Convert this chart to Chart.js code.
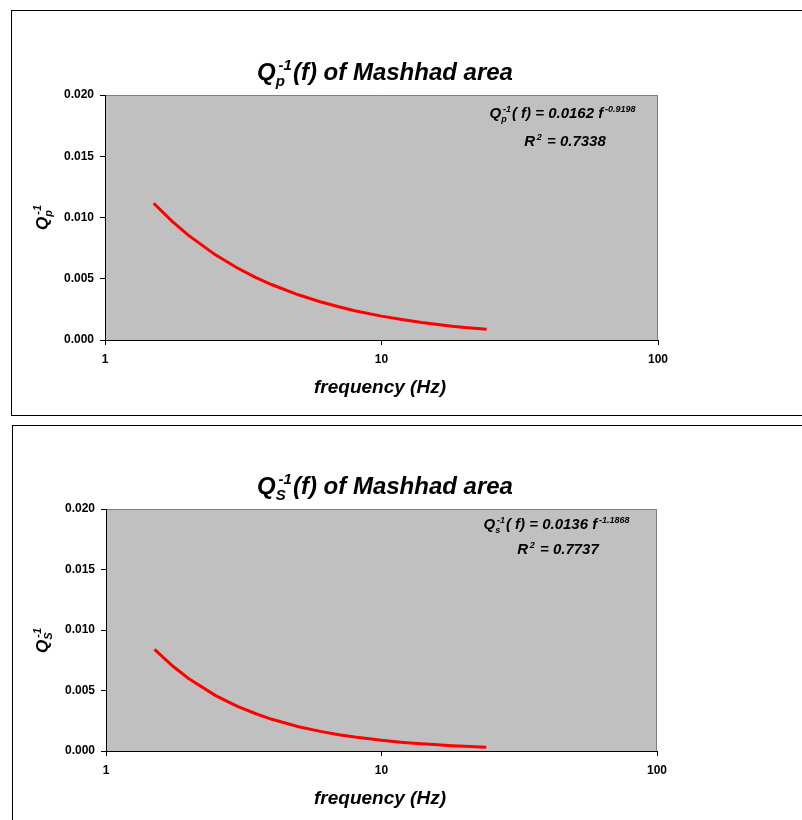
<!DOCTYPE html>
<html>
<head>
<meta charset="utf-8">
<script src="https://cdn.jsdelivr.net/npm/chart.js@4.4.1/dist/chart.umd.min.js"></script>
<style>
  html, body { margin: 0; padding: 0; background: #fff; overflow: hidden; }
  .frame { position: absolute; border: 1px solid #000; }
  canvas { position: absolute; left: 0; }
</style>
</head>
<body>
<div class="frame" style="left:11px;top:10px;width:820px;height:404px"></div>
<div class="frame" style="left:12px;top:425px;width:820px;height:420px"></div>
<canvas id="qp" width="802" height="415" style="top:0"></canvas>
<canvas id="qs" width="802" height="405" style="top:415px"></canvas>
<script>
// frequency samples (Hz) and read-off attenuation values
const freq  = [1.5, 1.75, 2, 2.5, 3, 3.5, 4, 5, 6, 7, 8, 10, 12, 14, 16, 18, 20, 24];
const qpInv = [0.01116, 0.00968, 0.00856, 0.00697, 0.00590, 0.00512, 0.00453, 0.00369, 0.00312,
               0.00271, 0.00239, 0.00195, 0.00165, 0.00143, 0.00127, 0.00113, 0.00103, 0.00087];
const qsInv = [0.00840, 0.00700, 0.00597, 0.00458, 0.00369, 0.00308, 0.00262, 0.00201, 0.00162,
               0.00135, 0.00115, 0.00088, 0.00071, 0.00059, 0.00051, 0.00044, 0.00039, 0.00031];
const xTicks = [1, 10, 100];
const yTicks = [0, 0.005, 0.010, 0.015, 0.020];

const FONT = 'Arial, "Liberation Sans", sans-serif';

// draw text made of pieces; a piece is a string or {sub, sup}
function richWidth(ctx, parts, size) {
  let w = 0;
  const small = Math.round(size * 0.62);
  parts.forEach(p => {
    if (typeof p === 'string') {
      ctx.font = `italic bold ${size}px ${FONT}`;
      w += ctx.measureText(p).width;
    } else {
      ctx.font = `italic bold ${small}px ${FONT}`;
      const a = p.sub ? ctx.measureText(p.sub).width : 0;
      const b = p.sup ? ctx.measureText(p.sup).width + size * 0.12 : 0;
      w += Math.max(a, b) + 1;
    }
  });
  return w;
}

function drawRich(ctx, parts, x, y, size, align) {
  const small = Math.round(size * 0.62);
  const w = richWidth(ctx, parts, size);
  let cx = align === 'right' ? x - w : align === 'left' ? x : x - w / 2;
  ctx.fillStyle = '#000';
  ctx.textAlign = 'left';
  ctx.textBaseline = 'alphabetic';
  parts.forEach(p => {
    if (typeof p === 'string') {
      ctx.font = `italic bold ${size}px ${FONT}`;
      ctx.fillText(p, cx, y);
      cx += ctx.measureText(p).width;
    } else {
      ctx.font = `italic bold ${small}px ${FONT}`;
      let a = 0, b = 0;
      if (p.sub) {
        ctx.fillText(p.sub, cx, y + size * 0.25);
        a = ctx.measureText(p.sub).width;
      }
      if (p.sup) {
        ctx.fillText(p.sup, cx + size * 0.12, y - size * 0.42);
        b = ctx.measureText(p.sup).width + size * 0.12;
      }
      cx += Math.max(a, b) + 1;
    }
  });
}

const richText = {
  id: 'richText',
  beforeDraw(chart) {
    const { ctx, chartArea: a } = chart;
    ctx.save();
    ctx.fillStyle = '#C0C0C0';
    ctx.fillRect(a.left, a.top, a.right - a.left, a.bottom - a.top);
    ctx.strokeStyle = '#808080';
    ctx.lineWidth = 1;
    ctx.beginPath();
    ctx.moveTo(a.left, a.top + 0.5);
    ctx.lineTo(a.right - 0.5, a.top + 0.5);
    ctx.lineTo(a.right - 0.5, a.bottom);
    ctx.stroke();
    ctx.restore();
  },
  afterDraw(chart, args, opts) {
    const ctx = chart.ctx;
    ctx.save();
    opts.items.forEach(it => {
      if (it.rotate) {
        ctx.save();
        ctx.translate(it.x, it.y);
        ctx.rotate(-Math.PI / 2);
        drawRich(ctx, it.parts, 0, 0, it.size, 'center');
        ctx.restore();
      } else {
        drawRich(ctx, it.parts, it.x, it.y, it.size, it.align || 'center');
      }
    });
    ctx.restore();
  }
};

function makeChart(id, values, box, items) {
  return new Chart(document.getElementById(id), {
    type: 'scatter',
    data: {
      datasets: [{
        data: freq.map((f, i) => ({ x: f, y: values[i] })),
        showLine: true,
        borderColor: '#FF0000',
        borderWidth: 3,
        pointRadius: 0,
        tension: 0
      }]
    },
    options: {
      responsive: false,
      animation: false,
      layout: { padding: { left: 0, right: box.right, top: box.top, bottom: 0 } },
      plugins: {
        legend: { display: false },
        tooltip: { enabled: false },
        richText: { items }
      },
      scales: {
        x: {
          type: 'logarithmic',
          min: 1,
          max: 100,
          afterBuildTicks: s => { s.ticks = xTicks.map(v => ({ value: v })); },
          afterFit: s => { s.height = box.xh; },
          grid: { drawOnChartArea: false, tickLength: 5, color: '#000' },
          border: { color: '#000', width: 1 },
          ticks: {
            color: '#000', padding: 7, maxRotation: 0, autoSkip: false,
            font: { family: FONT, size: 12, weight: 'bold' },
            callback: v => String(v)
          }
        },
        y: {
          min: 0,
          max: 0.02,
          afterBuildTicks: s => { s.ticks = yTicks.map(v => ({ value: v })); },
          afterFit: s => { s.width = box.left; },
          grid: { drawOnChartArea: false, tickLength: 5, color: '#000' },
          border: { color: '#000', width: 1 },
          ticks: {
            color: '#000', padding: 6,
            font: { family: FONT, size: 12, weight: 'bold' },
            callback: v => v.toFixed(3)
          }
        }
      }
    },
    plugins: [richText]
  });
}

makeChart('qp', qpInv, { left: 105, right: 144, top: 95, xh: 75 }, [
  { parts: ['Q', { sub: 'p', sup: '-1' }, '(f) of Mashhad area'], x: 385, y: 80, size: 24 },
  { parts: ['Q', { sub: 'p', sup: '-1' }, '( f) = 0.0162 f', { sup: '-0.9198' }], x: 563, y: 118, size: 15 },
  { parts: ['R', { sup: '2' }, ' = 0.7338'], x: 565, y: 146, size: 15 },
  { parts: ['frequency (Hz)'], x: 380, y: 393, size: 19 },
  { parts: ['Q', { sub: 'p', sup: '-1' }], x: 48, y: 217, size: 17, rotate: true }
]);

makeChart('qs', qsInv, { left: 106, right: 145, top: 94, xh: 69 }, [
  { parts: ['Q', { sub: 'S', sup: '-1' }, '(f) of Mashhad area'], x: 385, y: 79, size: 24 },
  { parts: ['Q', { sub: 's', sup: '-1' }, '( f) = 0.0136 f', { sup: '-1.1868' }], x: 557, y: 114, size: 15 },
  { parts: ['R', { sup: '2' }, ' = 0.7737'], x: 558, y: 139, size: 15 },
  { parts: ['frequency (Hz)'], x: 380, y: 389, size: 19 },
  { parts: ['Q', { sub: 'S', sup: '-1' }], x: 48, y: 225, size: 17, rotate: true }
]);
</script>
</body>
</html>
